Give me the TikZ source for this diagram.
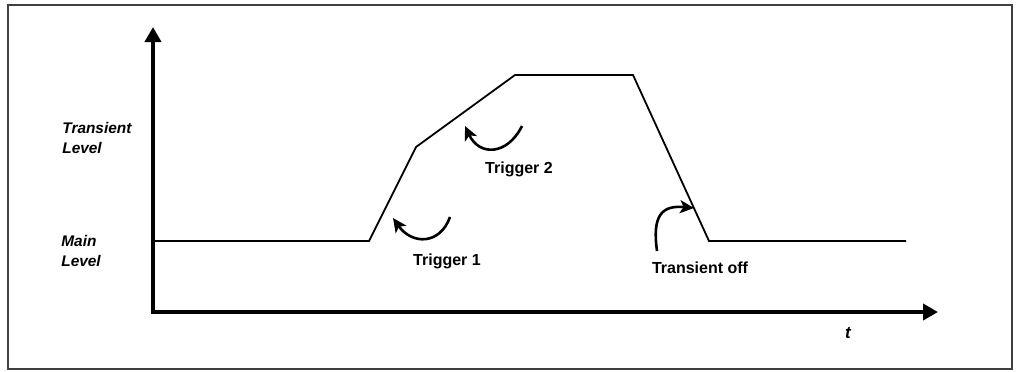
\documentclass[tikz,border=0pt]{standalone}
\usepackage{fontspec}
\setmainfont{Liberation Sans}
\usetikzlibrary{arrows.meta}
\begin{document}
\begin{tikzpicture}[x=0.5pt,y=-0.5pt,
  lbl/.style={font=\fontsize{7.7}{10}\selectfont\bfseries\itshape, align=left, inner sep=0, anchor=west},
  trig/.style={font=\fontsize{8}{9.6}\selectfont\bfseries, inner sep=0},
  axisline/.style={line width=1.9pt, line join=miter,
     {Triangle[length=7.5pt,width=8pt]}-{Triangle[length=7.5pt,width=8pt]}},
  sig/.style={line width=0.9pt, line join=miter},
  curv/.style={line width=1.3pt, -{Stealth[length=7pt,width=6.5pt,inset=1.8pt]}}]
\useasboundingbox (0,0) rectangle (1016,371);
\draw[line width=1.1pt, black!75] (8,5) rectangle (1012,369);

% axes
\coordinate (O) at (153,312);
\coordinate (ytip) at (153,27);
\coordinate (xtip) at (938,312);
\draw[axisline] (ytip) -- (O) -- (xtip);

% signal
\coordinate (s0) at (155,241);
\coordinate (s1) at (369,241);
\coordinate (s2) at (416,147);
\coordinate (s3) at (515,75);
\coordinate (s4) at (633,75);
\coordinate (s5) at (709,241);
\coordinate (s6) at (906,241);
\draw[sig] (s0) -- (s1) -- (s2) -- (s3) -- (s4) -- (s5) -- (s6);

% labels
\node[lbl] (tl) at (62,138) {Transient\\Level};
\node[lbl] (ml) at (61,251) {Main\\Level};
\node[trig] (t1) at (447,261) {Trigger 1};
\node[trig] (t2) at (519,169) {Trigger 2};
\node[trig] (toff) at (700,268) {Transient off};
\node[trig, font=\fontsize{8.5}{9.6}\selectfont\bfseries\itshape] (tt) at (848,333) {t};

% curved arrows
\coordinate (a1s) at (450,217);
\coordinate (a1e) at (393,218);
\draw[curv] (a1s) .. controls (440,245) and (412,245) .. (a1e);
\coordinate (a2s) at (522,126);
\coordinate (a2e) at (465,126);
\draw[curv] (a2s) .. controls (507,156) and (479,156) .. (a2e);
\coordinate (a3s) at (657,251);
\coordinate (a3e) at (694,208);
\draw[curv] (a3s) .. controls (652,215) and (662,205) .. (a3e);
\end{tikzpicture}
\end{document}
